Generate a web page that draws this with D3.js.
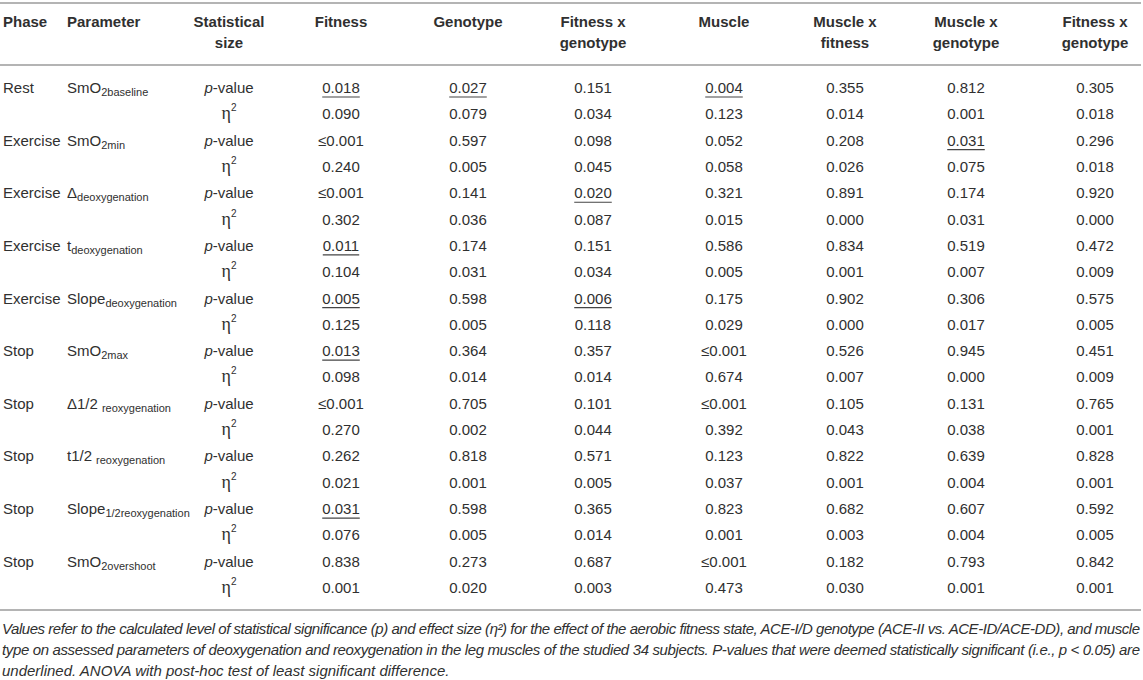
<!DOCTYPE html>
<html>
<head>
<meta charset="utf-8">
<script src="https://cdn.jsdelivr.net/npm/d3@7"></script>
<style>
  body { margin: 0; background: #fff; }
  svg text { font-family: "Liberation Sans", Arial, Helvetica, sans-serif; fill: #303030; }
</style>
</head>
<body>
<div id="table"></div>
<script>
// table content
const phases = ["Rest", "Exercise", "Exercise", "Exercise", "Exercise", "Stop", "Stop", "Stop", "Stop", "Stop"];
const paramBase = ["SmO", "SmO", "\u0394", "t", "Slope", "SmO", "\u03941/2", "t1/2", "Slope", "SmO"];
const paramSub = ["2baseline", "2min", "deoxygenation", "deoxygenation", "deoxygenation", "2max", "reoxygenation", "reoxygenation", "1/2reoxygenation", "2overshoot"];
const paramGap = [0, 0, 0, 0, 0, 0, 4, 4, 0, 0];
const effectHeaders = [["Fitness"], ["Genotype"], ["Fitness x", "genotype"], ["Muscle"], ["Muscle x", "fitness"], ["Muscle x", "genotype"], ["Fitness x", "genotype"]];

const pValues = [
  ["0.018", "0.027", "0.151", "0.004", "0.355", "0.812", "0.305"],
  ["\u22640.001", "0.597", "0.098", "0.052", "0.208", "0.031", "0.296"],
  ["\u22640.001", "0.141", "0.020", "0.321", "0.891", "0.174", "0.920"],
  ["0.011", "0.174", "0.151", "0.586", "0.834", "0.519", "0.472"],
  ["0.005", "0.598", "0.006", "0.175", "0.902", "0.306", "0.575"],
  ["0.013", "0.364", "0.357", "\u22640.001", "0.526", "0.945", "0.451"],
  ["\u22640.001", "0.705", "0.101", "\u22640.001", "0.105", "0.131", "0.765"],
  ["0.262", "0.818", "0.571", "0.123", "0.822", "0.639", "0.828"],
  ["0.031", "0.598", "0.365", "0.823", "0.682", "0.607", "0.592"],
  ["0.838", "0.273", "0.687", "\u22640.001", "0.182", "0.793", "0.842"]
];
// significant p-values that are underlined in the table
const pUnderlined = [
  [1, 1, 0, 1, 0, 0, 0],
  [0, 0, 0, 0, 0, 1, 0],
  [0, 0, 1, 0, 0, 0, 0],
  [1, 0, 0, 0, 0, 0, 0],
  [1, 0, 1, 0, 0, 0, 0],
  [1, 0, 0, 0, 0, 0, 0],
  [0, 0, 0, 0, 0, 0, 0],
  [0, 0, 0, 0, 0, 0, 0],
  [1, 0, 0, 0, 0, 0, 0],
  [0, 0, 0, 0, 0, 0, 0]
];
const etaValues = [
  ["0.090", "0.079", "0.034", "0.123", "0.014", "0.001", "0.018"],
  ["0.240", "0.005", "0.045", "0.058", "0.026", "0.075", "0.018"],
  ["0.302", "0.036", "0.087", "0.015", "0.000", "0.031", "0.000"],
  ["0.104", "0.031", "0.034", "0.005", "0.001", "0.007", "0.009"],
  ["0.125", "0.005", "0.118", "0.029", "0.000", "0.017", "0.005"],
  ["0.098", "0.014", "0.014", "0.674", "0.007", "0.000", "0.009"],
  ["0.270", "0.002", "0.044", "0.392", "0.043", "0.038", "0.001"],
  ["0.021", "0.001", "0.005", "0.037", "0.001", "0.004", "0.001"],
  ["0.076", "0.005", "0.014", "0.001", "0.003", "0.004", "0.005"],
  ["0.001", "0.020", "0.003", "0.473", "0.030", "0.001", "0.001"]
];
const footnote = [
  "Values refer to the calculated level of statistical significance (p) and effect size (\u03b7\u00b2) for the effect of the aerobic fitness state, ACE-I/D genotype (ACE-II vs. ACE-ID/ACE-DD), and muscle",
  "type on assessed parameters of deoxygenation and reoxygenation in the leg muscles of the studied 34 subjects. P-values that were deemed statistically significant (i.e., p < 0.05) are",
  "underlined. ANOVA with post-hoc test of least significant difference."
];

const width = 1143, height = 680;
const svg = d3.select("#table").append("svg")
  .attr("width", width)
  .attr("height", height);

const colKeys = ["stat"].concat(effectHeaders.map((d, i) => "e" + i));
const xCol = d3.scaleOrdinal().domain(colKeys).range([229, 341, 468, 593, 724, 845, 966, 1095]);
const nRows = phases.length * 2;
const yRow = d3.scaleLinear().domain([0, nRows - 1]).range([93, 593]);

// rules
const rules = svg.append("g").attr("stroke", "#b4b4b4").attr("stroke-width", 2);
[3, 65, 610].forEach(y => rules.append("line").attr("x1", 0).attr("x2", 1141).attr("y1", y).attr("y2", y));

// header
const head = svg.append("g").attr("font-weight", "bold").attr("font-size", 15);
head.append("text").attr("x", 3).attr("y", 27).text("Phase");
head.append("text").attr("x", 67).attr("y", 27).text("Parameter");
const headers = [["Statistical", "size"]].concat(effectHeaders);
headers.forEach((lines, i) => {
  lines.forEach((t, j) => {
    head.append("text")
      .attr("x", xCol(colKeys[i]))
      .attr("y", 27 + j * 21)
      .attr("text-anchor", "middle")
      .text(t);
  });
});

// body
const body = svg.append("g").attr("font-size", 15);
phases.forEach((ph, r) => {
  const yp = yRow(r * 2), ye = yRow(r * 2 + 1);
  body.append("text").attr("x", 3).attr("y", yp).text(ph);

  const par = body.append("text").attr("x", 67).attr("y", yp);
  par.append("tspan").text(paramBase[r]);
  par.append("tspan").attr("dx", paramGap[r]).attr("dy", 3).attr("font-size", 11).text(paramSub[r]);

  const pv = body.append("text").attr("x", xCol("stat")).attr("y", yp).attr("text-anchor", "middle");
  pv.append("tspan").attr("font-style", "italic").text("p");
  pv.append("tspan").text("-value");

  const eta = body.append("text").attr("x", xCol("stat")).attr("y", ye).attr("text-anchor", "middle");
  eta.append("tspan").attr("font-family", "'Liberation Serif', 'DejaVu Serif', serif").attr("font-size", 18).text("\u03b7");
  eta.append("tspan").attr("dy", -8).attr("font-size", 10).text("2");

  effectHeaders.forEach((h, c) => {
    const x = xCol("e" + c);
    const t = body.append("text").attr("x", x).attr("y", yp).attr("text-anchor", "middle").text(pValues[r][c]);
    if (pUnderlined[r][c]) {
      const w = t.node().getComputedTextLength();
      body.append("line")
        .attr("x1", x - w / 2).attr("x2", x + w / 2)
        .attr("y1", yp + 4).attr("y2", yp + 4)
        .attr("stroke", "#444").attr("stroke-width", 1.2);
    }
    body.append("text").attr("x", x).attr("y", ye).attr("text-anchor", "middle").text(etaValues[r][c]);
  });
});

// footnote, justified like the source
const note = svg.append("g").attr("font-size", 15).attr("font-style", "italic");
footnote.forEach((line, i) => {
  const t = note.append("text").attr("x", 2).attr("y", 634 + i * 21).text(line);
  if (i < footnote.length - 1) t.attr("textLength", 1138).attr("lengthAdjust", "spacing");
});
</script>
</body>
</html>
